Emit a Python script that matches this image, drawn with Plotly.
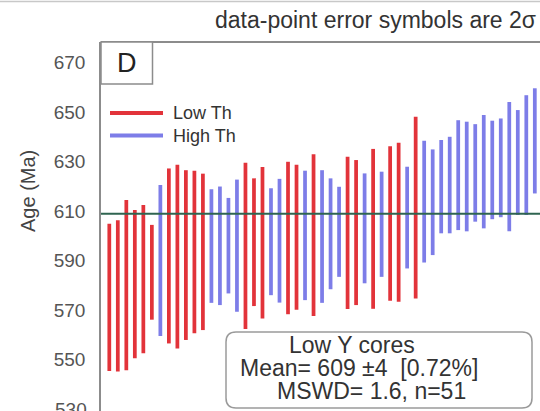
import plotly.graph_objects as go

# ---- data ----
analysis = list(range(1, 52))
group = ["Low", "Low", "Low", "Low", "Low", "Low", "High", "Low", "Low", "Low",
         "Low", "Low", "High", "High", "High", "High", "Low", "Low", "Low", "High",
         "High", "Low", "Low", "High", "Low", "High", "High", "High", "Low", "Low",
         "High", "Low", "High", "Low", "Low", "High", "Low", "High", "High", "High",
         "High", "High", "High", "High", "High", "High", "High", "High", "High", "High",
         "High"]
age_high = [605.0, 606.4, 614.6, 610.5, 612.5, 604.5, 620.6, 627.3, 628.8, 626.6,
            626.4, 625.2, 618.9, 620.0, 615.4, 622.8, 629.6, 623.3, 627.9, 619.3,
            623.1, 630.0, 628.8, 626.4, 633.0, 626.6, 623.3, 619.9, 632.0, 630.7,
            625.3, 635.2, 626.0, 636.3, 637.7, 628.0, 648.2, 638.5, 635.0, 638.8,
            640.1, 646.8, 646.2, 645.2, 648.9, 646.6, 647.5, 654.2, 650.9, 656.9,
            659.7]
age_low = [545.5, 545.3, 545.8, 550.6, 552.6, 566.2, 559.6, 556.6, 554.6, 558.0,
           560.7, 562.0, 573.0, 572.1, 576.8, 569.4, 562.4, 571.7, 566.7, 576.1,
           573.1, 568.4, 570.2, 574.1, 567.7, 573.0, 578.5, 583.5, 570.5, 572.1,
           580.9, 570.6, 583.5, 573.8, 573.4, 586.9, 574.8, 589.3, 592.3, 601.1,
           601.1, 602.4, 601.9, 605.8, 603.1, 606.8, 607.6, 601.9, 608.5, 608.5,
           617.2]
mean_age = 609
y_ticks = [530, 550, 570, 590, 610, 630, 650, 670]

series = {"Low": ("Low Th", "#e2333a"), "High": ("High Th", "#7d7de8")}

FONT = "Arial, Liberation Sans, sans-serif"

# ---- layout geometry (pixels) ----
W, H = 540, 411
L, T = 101, 42
PW, PH = W - L, H - T
Y0, Y1 = 529.3, 678.4


def px(x):
    return (x - L) / PW


def py(y):
    return (H - y) / PH


fig = go.Figure()
for key, (name, color) in series.items():
    xs = [a for a, g in zip(analysis, group) if g == key]
    lo = [v for v, g in zip(age_low, group) if g == key]
    hi = [v for v, g in zip(age_high, group) if g == key]
    fig.add_trace(go.Bar(
        x=xs, y=[h - l for h, l in zip(hi, lo)], base=lo, name=name,
        width=0.44, marker=dict(color=color, line=dict(width=0)),
        showlegend=False, hoverinfo="skip"))

# mean line
fig.add_shape(type="line", xref="paper", yref="y", x0=0, x1=1,
              y0=mean_age, y1=mean_age, line=dict(color="#2f6450", width=2))

shapes = [
    # top border of plot box
    dict(type="line", xref="paper", yref="paper", x0=0, x1=1, y0=1, y1=1,
         line=dict(color="#8c8c8c", width=2)),
    # faint line at very top
    dict(type="line", xref="paper", yref="paper", x0=px(0), x1=px(540),
         y0=py(1.5), y1=py(1.5), line=dict(color="#c8c8c8", width=1.5)),
    # D box
    dict(type="rect", xref="paper", yref="paper", x0=0, x1=px(152.5),
         y0=py(84), y1=1, line=dict(color="#8c8c8c", width=1.5),
         fillcolor="white"),
    # legend lines
    dict(type="line", xref="paper", yref="paper", x0=px(110), x1=px(163),
         y0=py(113), y1=py(113), line=dict(color=series["Low"][1], width=4)),
    dict(type="line", xref="paper", yref="paper", x0=px(110), x1=px(163),
         y0=py(135.5), y1=py(135.5), line=dict(color=series["High"][1], width=4)),
]

# rounded results box
bx0, bx1, by0, by1 = px(226), px(532), py(408), py(332)
rx, ry = 10 / PW, 10 / PH
path = (f"M {bx0+rx},{by0} L {bx1-rx},{by0} Q {bx1},{by0} {bx1},{by0+ry} "
        f"L {bx1},{by1-ry} Q {bx1},{by1} {bx1-rx},{by1} "
        f"L {bx0+rx},{by1} Q {bx0},{by1} {bx0},{by1-ry} "
        f"L {bx0},{by0+ry} Q {bx0},{by0} {bx0+rx},{by0} Z")
shapes.append(dict(type="path", xref="paper", yref="paper", path=path,
                   line=dict(color="#9a9a9a", width=1.5), fillcolor="white"))
for s in shapes:
    fig.add_shape(**s)

ann = [
    dict(text="data-point error symbols are 2σ", x=px(538), y=py(20),
         xanchor="right", yanchor="middle", font=dict(size=23, color="#333")),
    dict(text="D", x=px(126.5), y=py(63), xanchor="center", yanchor="middle",
         font=dict(size=27, color="#222")),
    dict(text="Low Th", x=px(171), y=py(113), xanchor="left", yanchor="middle",
         font=dict(size=18, color="#333")),
    dict(text="High Th", x=px(171), y=py(135.5), xanchor="left", yanchor="middle",
         font=dict(size=18, color="#333")),
    dict(text="Age (Ma)", x=px(28), y=py(191), xanchor="center", yanchor="middle",
         textangle=-90, font=dict(size=20, color="#444")),
    dict(text="Low Y cores", x=px(352), y=py(345), xanchor="center",
         yanchor="middle", font=dict(size=23, color="#333")),
    dict(text="Mean= 609 ±4  [0.72%]", x=px(359), y=py(368), xanchor="center",
         yanchor="middle", font=dict(size=23, color="#333")),
    dict(text="MSWD= 1.6, n=51", x=px(371), y=py(391), xanchor="center",
         yanchor="middle", font=dict(size=23, color="#333")),
    # lowest tick label, partly cut by the window edge as in the reference
    dict(text=str(y_ticks[0]), x=px(89), y=py(H - (y_ticks[0] - Y0) / (Y1 - Y0) * PH),
         xanchor="right", yanchor="middle",
         font=dict(size=19, color="#555")),
]
for a in ann:
    fig.add_annotation(xref="paper", yref="paper", showarrow=False, **a)

fig.update_layout(
    width=W, height=H, margin=dict(l=L, r=0, t=T, b=0),
    paper_bgcolor="white", plot_bgcolor="white", barmode="overlay",
    font=dict(family=FONT), showlegend=False,
    xaxis=dict(range=[0.025, 51.61], visible=False, fixedrange=True),
    yaxis=dict(range=[Y0, Y1], tickvals=y_ticks[1:],
               ticktext=[str(v) for v in y_ticks[1:]], showgrid=False,
               zeroline=False, showline=True, linecolor="#8c8c8c",
               linewidth=1.5, ticks="", ticklabelstandoff=10,
               tickfont=dict(size=19, color="#555", family=FONT)),
)

fig.write_html("out.html")
